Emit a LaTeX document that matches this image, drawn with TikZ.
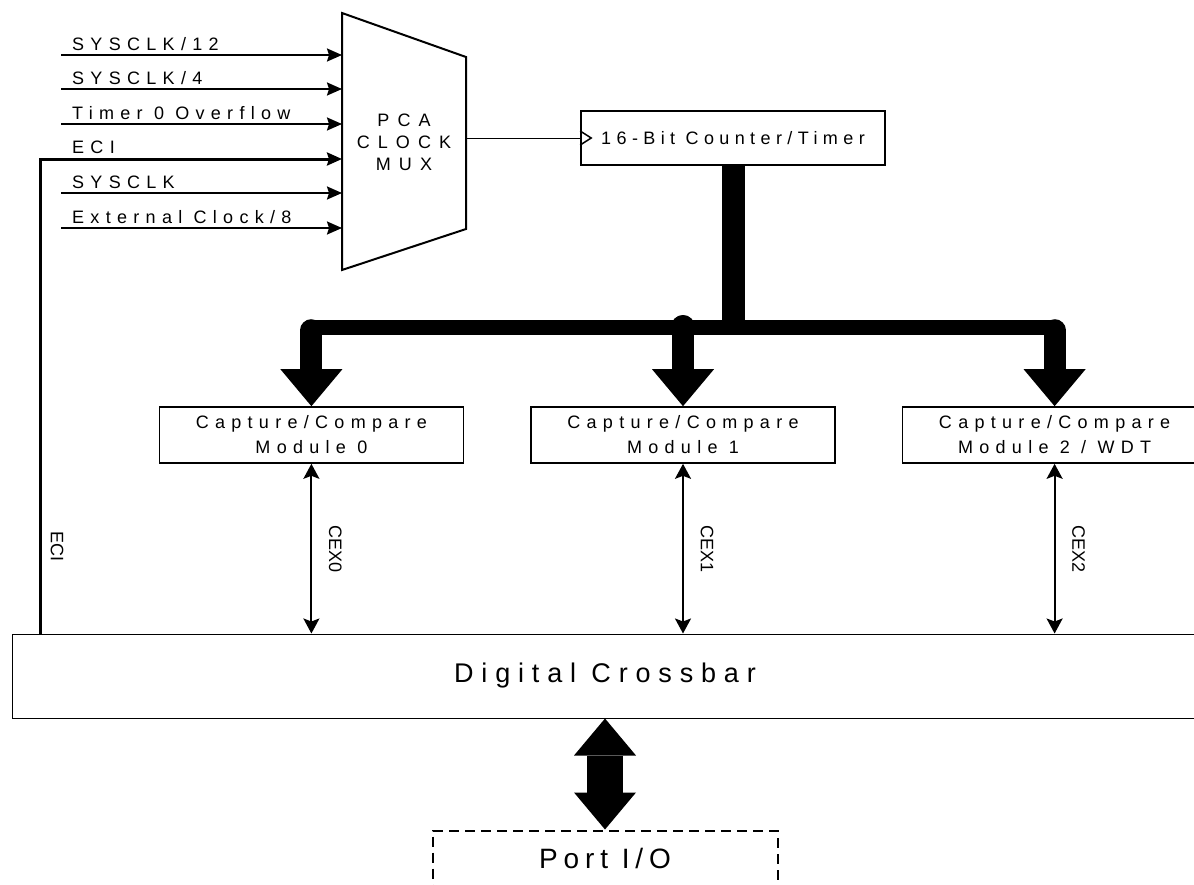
\documentclass[tikz,border=0pt]{standalone}
\usepackage{fontspec}
\setmainfont{Liberation Sans}
\newfontfamily\lsfont[LetterSpace=35]{Liberation Sans}
\usetikzlibrary{arrows.meta,positioning,calc}
\tikzset{
block/.style={draw,line width=1.6pt,minimum width=304pt,minimum height=56pt,inner sep=0pt,align=center,font=\lsfont\fontsize{18}{25}\selectfont},
crossbar/.style={draw,line width=1pt,minimum width=1186pt,minimum height=84pt,inner sep=0pt,font=\lsfont\addfontfeature{LetterSpace=29}\fontsize{27}{27}\selectfont},
portbox/.style={draw,dash pattern=on 10pt off 6pt,line width=2pt,minimum width=345pt,minimum height=56pt,inner sep=0pt,font=\lsfont\addfontfeature{LetterSpace=21}\fontsize{28}{28}\selectfont},
muxtext/.style={align=center,inner sep=0pt,font=\lsfont\addfontfeature{LetterSpace=45}\fontsize{18}{22}\selectfont},
lbl/.style={anchor=base west,inner sep=0pt,font=\lsfont\fontsize{18}{18}\selectfont},
vlbl/.style={rotate=-90,inner sep=0pt,font=\fontsize{18}{18}\selectfont},
clk/.style={line width=2pt,-{Stealth[length=15pt,width=13pt,inset=2pt]}},
cex/.style={line width=2pt,{Stealth[length=15pt,width=16pt,inset=3pt]}-{Stealth[length=15pt,width=16pt,inset=3pt]}},
bus/.style={line width=15pt},
trunk/.style={line width=23pt},
busarrow/.style={line width=22pt,line cap=round,-{Triangle[length=37pt,width=62pt,line width=0pt]}},
iobus/.style={line width=36pt,{Triangle[length=37pt,width=62pt,line width=0pt]}-{Triangle[length=37pt,width=62pt,line width=0pt]}}
}
\begin{document}
\begin{tikzpicture}[x=1pt,y=-1pt,node distance=66pt]
\useasboundingbox (0,0) rectangle (1194,884);
\clip (0,0) rectangle (1194,884);
\draw[line width=2pt] (342,13) coordinate(mnw) -- (466,57) -- (466,229) -- (342,270) -- cycle;
\node[muxtext](mux) at (404,142){PCA\\CLOCK\\MUX};
\coordinate (muxr) at (466,138);
\node[block,minimum height=54pt,font=\lsfont\addfontfeature{LetterSpace=30}\fontsize{18}{18}\selectfont](cnt) at (733,138){16-Bit Counter/Timer};
\node[block](m1) at (683,435){Capture/Compare\\Module 1};
\node[block,left=of m1](m0){Capture/Compare\\Module 0};
\node[block,right=of m1](m2){Capture/Compare\\Module 2 / WDT};
\node[crossbar](cb) at (605,676){Digital Crossbar};
\node[portbox,below=111pt of cb](pio){Port I/O};
\node[lbl](l1) at (72,50){SYSCLK/12};
\node[lbl](l2) at (72,84){SYSCLK/4};
\node[lbl](l3) at (72,119){Timer 0 Overflow};
\node[lbl](l4) at (72,153){ECI};
\node[lbl](l5) at (72,188){SYSCLK};
\node[lbl](l6) at (72,223){External Clock/8};
\draw[clk] (61,55) coordinate(i1) -- (i1 -| mnw);
\draw[clk] (61,89) coordinate(i2) -- (i2 -| mnw);
\draw[clk] (61,124) coordinate(i3) -- (i3 -| mnw);
\draw[clk] (61,193) coordinate(i5) -- (i5 -| mnw);
\draw[clk] (61,228) coordinate(i6) -- (i6 -| mnw);
\coordinate (eci) at (40,159);
\draw[clk,line width=3pt] (cb.north -| eci) -- (eci) -- (eci -| mnw);
\node[vlbl](l7) at ($(cb.north -| eci)+(17,-87)$){ECI};
\draw[line width=1pt] (muxr) -- (cnt.west);
\draw[line width=1.5pt] ($(cnt.west)+(0,-7)$) -- ++(11,7) -- ++(-11,7);
\coordinate (junc) at (cnt.south |- 0,327);
\draw[trunk] (cnt.south) -- (junc);
\draw[bus] (m0.north |- junc) -- (m2.north |- junc);
\fill (m1.north |- junc) circle (12pt);
\draw[busarrow] ($(m0.north)+(0,-76)$) -- (m0.north);
\draw[busarrow] ($(m1.north)+(0,-80)$) -- (m1.north);
\draw[busarrow] ($(m2.north)+(0,-76)$) -- (m2.north);
\draw[cex] (m0.south) -- (m0.south |- cb.north) node[midway,xshift=24pt,vlbl](x0){CEX0};
\draw[cex] (m1.south) -- (m1.south |- cb.north) node[midway,xshift=24pt,vlbl](x1){CEX1};
\draw[cex] (m2.south) -- (m2.south |- cb.north) node[midway,xshift=24pt,vlbl](x2){CEX2};
\draw[iobus] (cb.south) -- (pio.north);
\end{tikzpicture}
\end{document}
